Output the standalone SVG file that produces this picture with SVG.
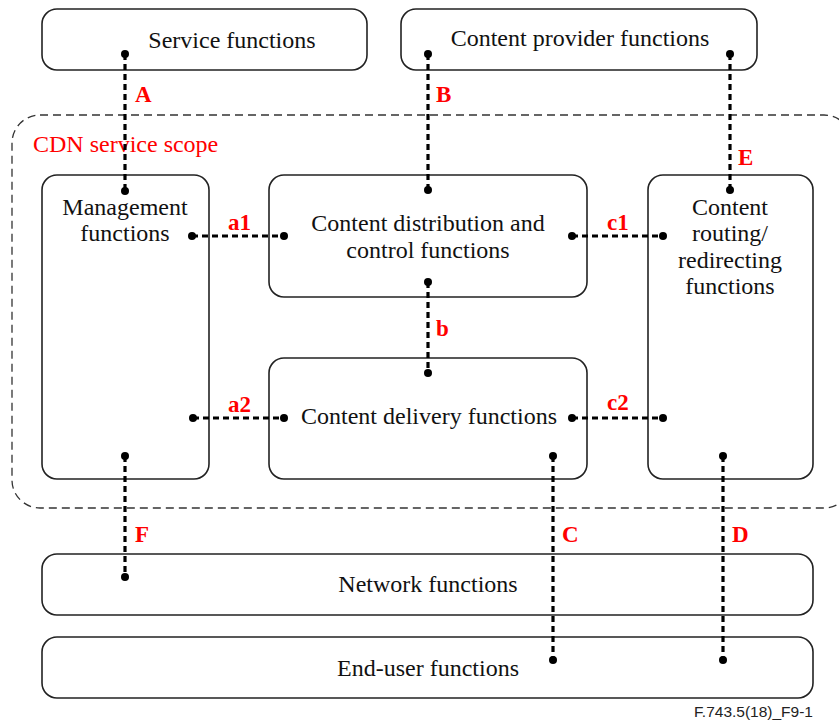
<svg xmlns="http://www.w3.org/2000/svg" width="839" height="722" viewBox="0 0 839 722">
  <style>
    .box { fill: #fff; stroke: #222; stroke-width: 1.6; }
    .scope { fill: none; stroke: #333; stroke-width: 1.3; stroke-dasharray: 8 5; }
    .lbl { font-family: "Liberation Serif", "Times New Roman", serif; font-size: 24px; fill: #111; text-anchor: middle; }
    .ref { font-family: "Liberation Serif", "Times New Roman", serif; font-size: 23px; font-weight: bold; fill: #f00; }
    .link { fill: none; stroke: #000; stroke-width: 3.2; stroke-dasharray: 6 4; }
    .dot { fill: #000; }
    .scope-lbl { font-family: "Liberation Serif", "Times New Roman", serif; font-size: 24px; fill: #f00; }
    .fig { font-family: "Liberation Sans", Arial, sans-serif; font-size: 15.5px; fill: #222; text-anchor: end; }
  </style>
  <rect width="839" height="722" fill="#fff"/>

  <!-- CDN service scope boundary -->
  <g id="scope">
    <rect class="scope" x="12" y="115" width="840" height="393" rx="28"/>
    <text class="scope-lbl" x="33" y="152">CDN service scope</text>
  </g>

  <g id="service">
    <rect class="box" x="42" y="9" width="325" height="61" rx="15"/>
    <text class="lbl" x="232" y="48">Service functions</text>
  </g>
  <g id="provider">
    <rect class="box" x="401" y="9" width="356" height="61" rx="15"/>
    <text class="lbl" x="580" y="46">Content provider functions</text>
  </g>
  <g id="management">
    <rect class="box" x="42" y="175" width="167" height="304" rx="15"/>
    <text class="lbl" x="125" y="215">Management</text>
    <text class="lbl" x="125" y="241">functions</text>
  </g>
  <g id="distribution">
    <rect class="box" x="269" y="175" width="318" height="122" rx="15"/>
    <text class="lbl" x="428" y="231">Content distribution and</text>
    <text class="lbl" x="428" y="258">control functions</text>
  </g>
  <g id="delivery">
    <rect class="box" x="269" y="358" width="318" height="121" rx="15"/>
    <text class="lbl" x="429" y="424">Content delivery functions</text>
  </g>
  <g id="routing">
    <rect class="box" x="648" y="175" width="165" height="304" rx="15"/>
    <text class="lbl" x="730" y="215">Content</text>
    <text class="lbl" x="730" y="241">routing/</text>
    <text class="lbl" x="730" y="268">redirecting</text>
    <text class="lbl" x="730" y="294">functions</text>
  </g>
  <g id="network">
    <rect class="box" x="42" y="554" width="771" height="61" rx="15"/>
    <text class="lbl" x="428" y="592">Network functions</text>
  </g>
  <g id="enduser">
    <rect class="box" x="42" y="637" width="771" height="61" rx="15"/>
    <text class="lbl" x="428" y="676">End-user functions</text>
  </g>

  <!-- reference points -->
  <g id="connectors">
    <line class="link" x1="125" y1="54" x2="125" y2="191"/>
    <line class="link" x1="428" y1="54" x2="428" y2="190"/>
    <line class="link" x1="730" y1="54" x2="730" y2="190"/>
    <line class="link" x1="192" y1="236" x2="284" y2="236"/>
    <line class="link" x1="572" y1="236" x2="663" y2="236"/>
    <line class="link" x1="428" y1="282" x2="428" y2="373"/>
    <line class="link" x1="193" y1="418" x2="284" y2="418"/>
    <line class="link" x1="572" y1="418" x2="663" y2="418"/>
    <line class="link" x1="125" y1="456" x2="125" y2="577"/>
    <line class="link" x1="553" y1="456" x2="553" y2="660"/>
    <line class="link" x1="723" y1="456" x2="723" y2="660"/>

    <circle class="dot" cx="125" cy="54" r="4"/>
    <circle class="dot" cx="125" cy="191" r="4"/>
    <circle class="dot" cx="428" cy="54" r="4"/>
    <circle class="dot" cx="428" cy="190" r="4"/>
    <circle class="dot" cx="730" cy="54" r="4"/>
    <circle class="dot" cx="730" cy="190" r="4"/>
    <circle class="dot" cx="192" cy="236" r="4"/>
    <circle class="dot" cx="284" cy="236" r="4"/>
    <circle class="dot" cx="572" cy="236" r="4"/>
    <circle class="dot" cx="663" cy="236" r="4"/>
    <circle class="dot" cx="428" cy="282" r="4"/>
    <circle class="dot" cx="428" cy="373" r="4"/>
    <circle class="dot" cx="193" cy="418" r="4"/>
    <circle class="dot" cx="284" cy="418" r="4"/>
    <circle class="dot" cx="572" cy="418" r="4"/>
    <circle class="dot" cx="663" cy="418" r="4"/>
    <circle class="dot" cx="125" cy="456" r="4"/>
    <circle class="dot" cx="125" cy="577" r="4"/>
    <circle class="dot" cx="553" cy="456" r="4"/>
    <circle class="dot" cx="553" cy="660" r="4"/>
    <circle class="dot" cx="723" cy="456" r="4"/>
    <circle class="dot" cx="723" cy="660" r="4"/>

    <text class="ref" x="135" y="102">A</text>
    <text class="ref" x="436" y="102">B</text>
    <text class="ref" x="738" y="165">E</text>
    <text class="ref" x="228" y="230">a1</text>
    <text class="ref" x="607" y="230">c1</text>
    <text class="ref" x="436" y="336">b</text>
    <text class="ref" x="228" y="412">a2</text>
    <text class="ref" x="607" y="410">c2</text>
    <text class="ref" x="135" y="542">F</text>
    <text class="ref" x="562" y="542">C</text>
    <text class="ref" x="732" y="542">D</text>
  </g>

  <text class="fig" x="813" y="717">F.743.5(18)_F9-1</text>
</svg>
